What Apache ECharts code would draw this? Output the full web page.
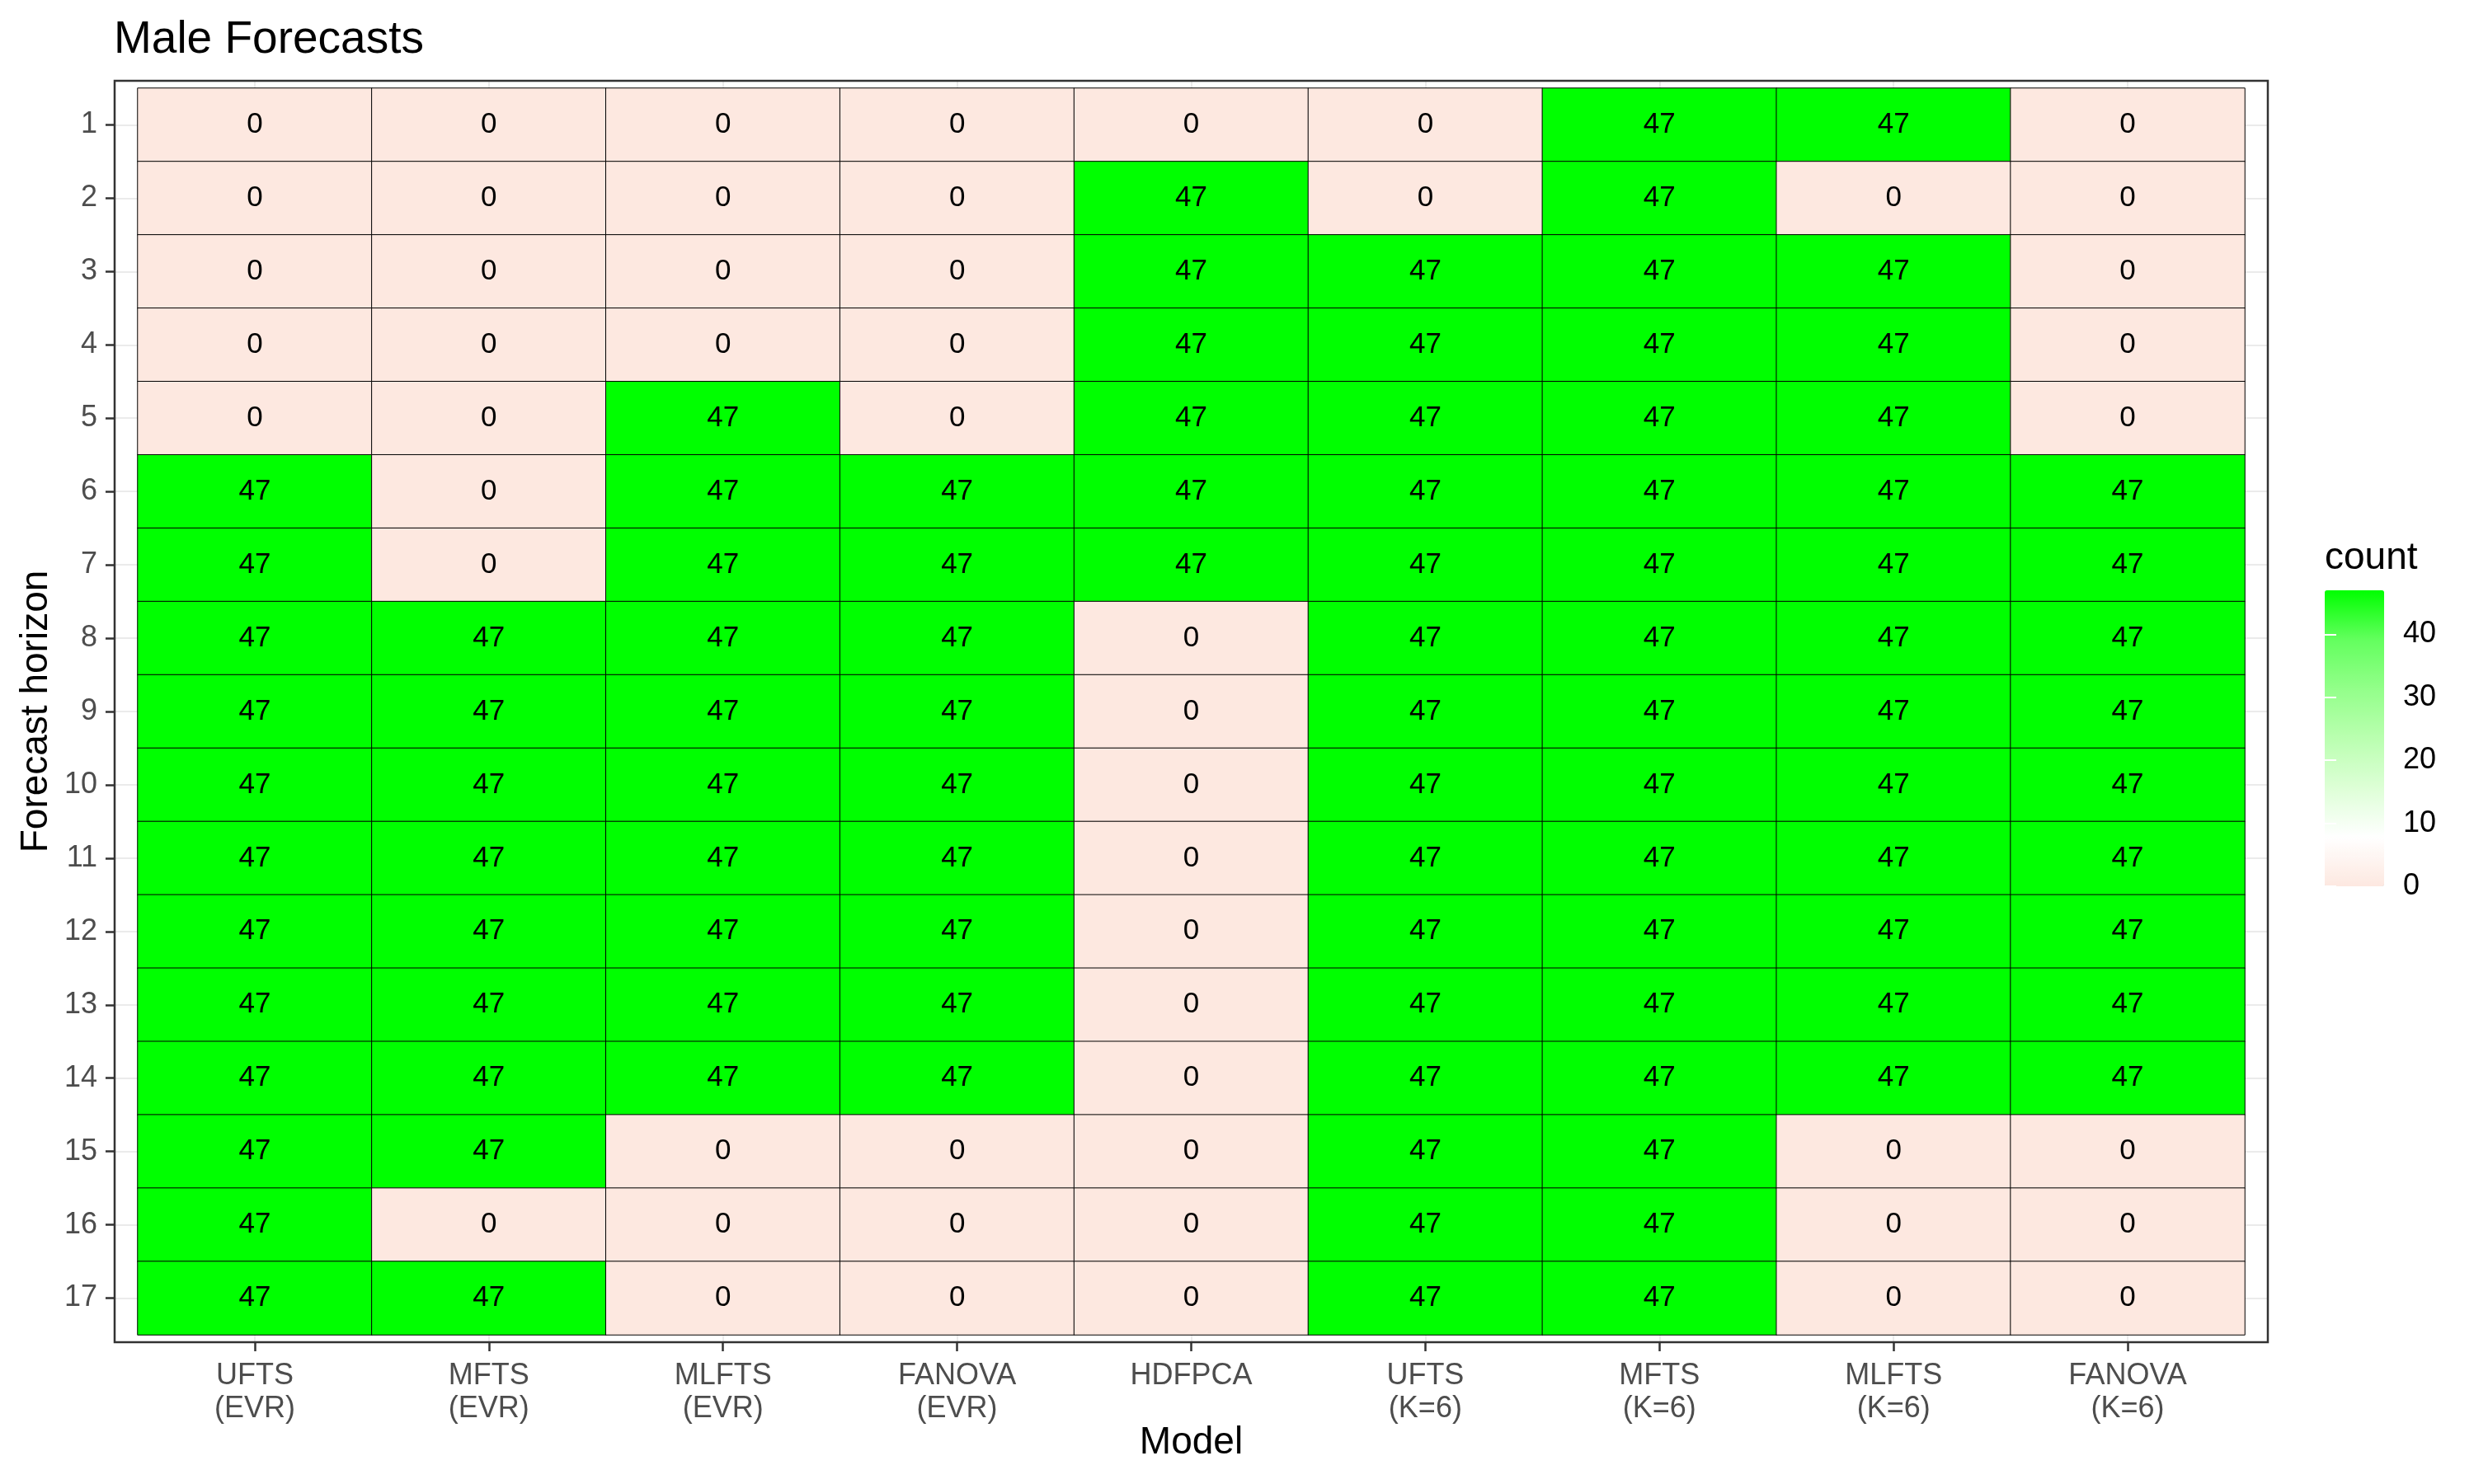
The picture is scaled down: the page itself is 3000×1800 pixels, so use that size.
<!DOCTYPE html>
<html>
<head>
<meta charset="utf-8">
<script src="https://cdn.jsdelivr.net/npm/echarts@6/dist/echarts.min.js"></script>
<style>
html, body { margin: 0; padding: 0; background: #fff; }
#chart { width: 3000px; height: 1800px; }
</style>
</head>
<body>
<div id="chart"></div>
<script>
// categories
const models = [
  'UFTS\n(EVR)', 'MFTS\n(EVR)', 'MLFTS\n(EVR)', 'FANOVA\n(EVR)', 'HDFPCA',
  'UFTS\n(K=6)', 'MFTS\n(K=6)', 'MLFTS\n(K=6)', 'FANOVA\n(K=6)'
]
const horizons = ['1', '2', '3', '4', '5', '6', '7', '8', '9', '10', '11', '12', '13', '14', '15', '16', '17']

// count per model, horizon 1..17
const uftsEvr   = [0, 0, 0, 0, 0, 47, 47, 47, 47, 47, 47, 47, 47, 47, 47, 47, 47]
const mftsEvr   = [0, 0, 0, 0, 0, 0, 0, 47, 47, 47, 47, 47, 47, 47, 47, 0, 47]
const mlftsEvr  = [0, 0, 0, 0, 47, 47, 47, 47, 47, 47, 47, 47, 47, 47, 0, 0, 0]
const fanovaEvr = [0, 0, 0, 0, 0, 47, 47, 47, 47, 47, 47, 47, 47, 47, 0, 0, 0]
const hdfpca    = [0, 47, 47, 47, 47, 47, 47, 0, 0, 0, 0, 0, 0, 0, 0, 0, 0]
const uftsK6    = [0, 0, 47, 47, 47, 47, 47, 47, 47, 47, 47, 47, 47, 47, 47, 47, 47]
const mftsK6    = [47, 47, 47, 47, 47, 47, 47, 47, 47, 47, 47, 47, 47, 47, 47, 47, 47]
const mlftsK6   = [47, 0, 47, 47, 47, 47, 47, 47, 47, 47, 47, 47, 47, 47, 0, 0, 0]
const fanovaK6  = [0, 0, 0, 0, 0, 47, 47, 47, 47, 47, 47, 47, 47, 47, 0, 0, 0]
const counts = [uftsEvr, mftsEvr, mlftsEvr, fanovaEvr, hdfpca, uftsK6, mftsK6, mlftsK6, fanovaK6]

const countMin = 0
const countMax = 47
const countTicks = [0, 10, 20, 30, 40]

const heatData = []
counts.forEach((col, i) => {
  col.forEach((v, j) => heatData.push([i, j, v]))
})

const FONT = 'Liberation Sans, Arial, Helvetica, sans-serif'
const grey30 = '#4d4d4d'
const grey20 = '#333333'
const grey92 = '#ebebeb'

// cell area and panel padding (ggplot discrete expansion)
const cell = { left: 167, top: 107, width: 2555, height: 1512 }
const padX = 28
const padY = 9

const stub = (len) => ({ show: true, alignWithLabel: true, length: len, lineStyle: { color: grey92, width: 2 } })

const chart = echarts.init(document.getElementById('chart'))

chart.setOption({
  backgroundColor: '#ffffff',
  animation: false,
  textStyle: { fontFamily: FONT },
  title: [
    {
      text: 'Male Forecasts',
      left: 138,
      top: 21,
      padding: 0,
      textStyle: { fontFamily: FONT, fontSize: 55, fontWeight: 'normal', color: '#000' }
    },
    {
      text: 'count',
      left: 2819,
      top: 654,
      padding: 0,
      textStyle: { fontFamily: FONT, fontSize: 46, fontWeight: 'normal', color: '#000' }
    }
  ],
  grid: [
    { left: cell.left, top: cell.top, width: cell.width, height: cell.height },
    {
      left: cell.left - padX, top: cell.top - padY,
      width: cell.width + 2 * padX, height: cell.height + 2 * padY,
      show: true, borderColor: grey20, borderWidth: 2.5, backgroundColor: 'transparent', z: 5
    },
    { left: 2819, top: 716, width: 72, height: 359 }
  ],
  xAxis: [
    { gridIndex: 0, type: 'category', data: models, position: 'bottom',
      axisLine: { show: false }, axisTick: stub(padY), axisLabel: { show: false }, splitLine: { show: false } },
    { gridIndex: 0, type: 'category', data: models, position: 'top',
      axisLine: { show: false }, axisTick: stub(padY), axisLabel: { show: false }, splitLine: { show: false } },
    { gridIndex: 0, type: 'category', data: models, position: 'bottom', offset: padY,
      axisLine: { show: false },
      axisTick: { show: true, alignWithLabel: true, length: 11, lineStyle: { color: grey20, width: 2.5 } },
      axisLabel: { show: true, interval: 0, margin: 21, color: grey30, fontSize: 36, lineHeight: 40, fontFamily: FONT },
      name: 'Model', nameLocation: 'middle', nameGap: 99, nameMoveOverlap: false,
      nameTextStyle: { color: '#000', fontSize: 46, fontFamily: FONT } },
    { gridIndex: 1, type: 'value', show: false },
    { gridIndex: 2, type: 'value', show: false }
  ],
  yAxis: [
    { gridIndex: 0, type: 'category', data: horizons, inverse: true, position: 'left',
      axisLine: { show: false }, axisTick: stub(padX), axisLabel: { show: false }, splitLine: { show: false } },
    { gridIndex: 0, type: 'category', data: horizons, inverse: true, position: 'right',
      axisLine: { show: false }, axisTick: stub(padX), axisLabel: { show: false }, splitLine: { show: false } },
    { gridIndex: 0, type: 'category', data: horizons, inverse: true, position: 'left', offset: padX,
      axisLine: { show: false },
      axisTick: { show: true, alignWithLabel: true, length: 11, lineStyle: { color: grey20, width: 2.5 } },
      axisLabel: { show: true, interval: 0, margin: 21, color: grey30, fontSize: 36, fontFamily: FONT },
      name: 'Forecast horizon', nameLocation: 'middle', nameGap: 66,
      nameTextStyle: { color: '#000', fontSize: 46, fontFamily: FONT } },
    { gridIndex: 1, type: 'value', show: false },
    // colour bar ticks and labels
    { gridIndex: 2, type: 'value', position: 'right', min: countMin, max: countMax,
      axisLine: { show: false },
      axisTick: { show: true, inside: true, length: 14, customValues: countTicks, lineStyle: { color: '#fff', width: 2 } },
      axisLabel: { show: true, margin: 23, customValues: countTicks, color: '#000', fontSize: 36, fontFamily: FONT },
      splitLine: { show: false }, z: 10 },
    { gridIndex: 2, type: 'value', position: 'left', min: countMin, max: countMax,
      axisLine: { show: false },
      axisTick: { show: true, inside: true, length: 14, customValues: countTicks, lineStyle: { color: '#fff', width: 2 } },
      axisLabel: { show: false },
      splitLine: { show: false }, z: 10 }
  ],
  visualMap: {
    type: 'continuous',
    seriesIndex: 0,
    min: countMin,
    max: countMax,
    calculable: false,
    hoverLink: false,
    left: 2819,
    top: 716,
    padding: 0,
    itemWidth: 72,
    itemHeight: 359,
    inRange: {
      color: ['#fde8e0', '#ffffff', '#ddffd6', '#baffb0', '#93ff8a', '#63ff5e', '#00ff00']
    }
  },
  series: [
    {
      type: 'heatmap',
      xAxisIndex: 0,
      yAxisIndex: 0,
      data: heatData,
      itemStyle: { borderColor: '#000', borderWidth: 1 },
      label: {
        show: true,
        color: '#000',
        fontSize: 35,
        fontFamily: FONT,
        formatter: p => String(p.value[2])
      },
      emphasis: { disabled: true }
    }
  ]
})
</script>
</body>
</html>
